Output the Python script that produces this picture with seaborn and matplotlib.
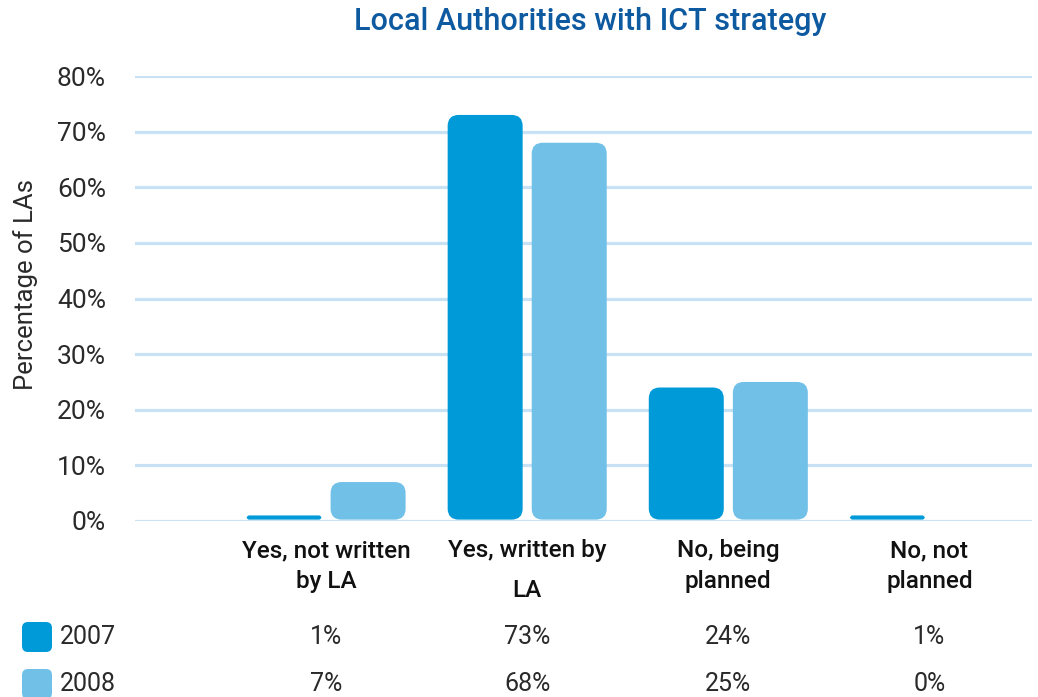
import numpy as np
import pandas as pd
import matplotlib
matplotlib.use("Agg")
import matplotlib.pyplot as plt
import matplotlib.transforms as mtransforms
from matplotlib.patches import FancyBboxPatch
import seaborn as sns

# ---- data ----
categories = ["Yes, not written\nby LA", "Yes, written by\nLA", "No, being\nplanned", "No, not\nplanned"]
years = ["2007", "2008"]
values_2007 = [1, 73, 24, 1]
values_2008 = [7, 68, 25, 0]
ytick_values = [0, 10, 20, 30, 40, 50, 60, 70, 80]
ytick_labels = ["0%", "10%", "20%", "30%", "40%", "50%", "60%", "70%", "80%"]
title = "Local Authorities with ICT strategy"
ylabel = "Percentage of LAs"

colors = {"2007": "#009ad8", "2008": "#70c0e8"}
grid_color = "#c6e2f4"
title_color = "#0d5aa0"
text_color = "#2a2a2a"

df = pd.DataFrame({
    "Category": categories * 2,
    "Year": [years[0]] * len(categories) + [years[1]] * len(categories),
    "Value": values_2007 + values_2008,
})

sns.set_theme(style="white")
plt.rcParams["font.family"] = ["Roboto", "DejaVu Sans"]

W, H = 1038, 697
fig = plt.figure(figsize=(W / 100, H / 100), dpi=100)
ax_left, ax_right, ax_top, ax_bottom = 135, 1032, 76, 521
ax = fig.add_axes([ax_left / W, (H - ax_bottom) / H, (ax_right - ax_left) / W, (ax_bottom - ax_top) / H])

sns.barplot(data=df, x="Category", y="Value", hue="Year", order=categories,
            hue_order=years, palette=colors, width=0.836, gap=0.108,
            legend=False, ax=ax, saturation=1, edgecolor="none", linewidth=0)

ax.set_xlim(-0.95, 3.51)
ax.set_ylim(0, 80)

# rounded bars
x_px = (ax_right - ax_left) / (3.51 + 0.95)
y_px = (ax_bottom - ax_top) / 80.0
r_px = 11
aspect = (r_px / y_px) / (r_px / x_px)
old = list(ax.patches)
for p in old:
    x0, y0 = p.get_x(), p.get_y()
    w, h = p.get_width(), p.get_height()
    fc = p.get_facecolor()
    p.remove()
    if h <= 0:
        continue
    r = min(r_px / x_px, w / 2, h / aspect / 2)
    fb = FancyBboxPatch((x0, y0 + 0.25), w, h - 0.25,
                        boxstyle=f"round,pad=0,rounding_size={r}",
                        mutation_aspect=aspect, facecolor=fc, edgecolor="none", zorder=3)
    ax.add_patch(fb)

# grid
for v in ytick_values:
    ax.axhline(v, color=grid_color, lw=2.3, zorder=1)
for s in ax.spines.values():
    s.set_visible(False)
ax.set_yticks(ytick_values)
ax.set_yticklabels(ytick_labels, fontsize=19, fontweight="normal", color=text_color)
ax.tick_params(axis="y", length=0, pad=21)
ax.set_xticks([])
ax.set_xlabel("")
ax.set_ylabel("")

# y label
fig.text(26 / W, 1 - 284 / H, ylabel, rotation=90, ha="center", va="center",
         fontsize=18.5, fontweight="normal", color=text_color)

# title
fig.text(590 / W, 1 - 22 / H, title, ha="center", va="center",
         fontsize=22, fontweight="medium", color=title_color)

# category labels
blend = mtransforms.blended_transform_factory(ax.transData, fig.transFigure)
for i, lab in enumerate(categories):
    ls = 1.95 if i == 1 else 1.45
    ax.text(i, 1 - 539 / H, lab, transform=blend, ha="center", va="top",
            fontsize=17.5, fontweight="medium", color="#111111", linespacing=ls)

# table rows
rows = [(years[0], values_2007, 637), (years[1], values_2008, 684)]
for yr, vals, ypx in rows:
    yf = 1 - ypx / H
    for i, v in enumerate(vals):
        ax.text(i, yf, f"{v}%", transform=blend, ha="center", va="center",
                fontsize=18, fontweight="normal", color=text_color)
    sq = FancyBboxPatch((22 / W, 1 - (ypx + 15) / H), 30 / W, 30 / H,
                        boxstyle=f"round,pad=0,rounding_size={6 / W}",
                        mutation_aspect=W / H, facecolor=colors[yr], edgecolor="none",
                        transform=fig.transFigure)
    fig.patches.append(sq)
    fig.text(60 / W, yf, yr, ha="left", va="center", fontsize=18,
             fontweight="normal", color=text_color)

fig.savefig("out.png", dpi=100)
